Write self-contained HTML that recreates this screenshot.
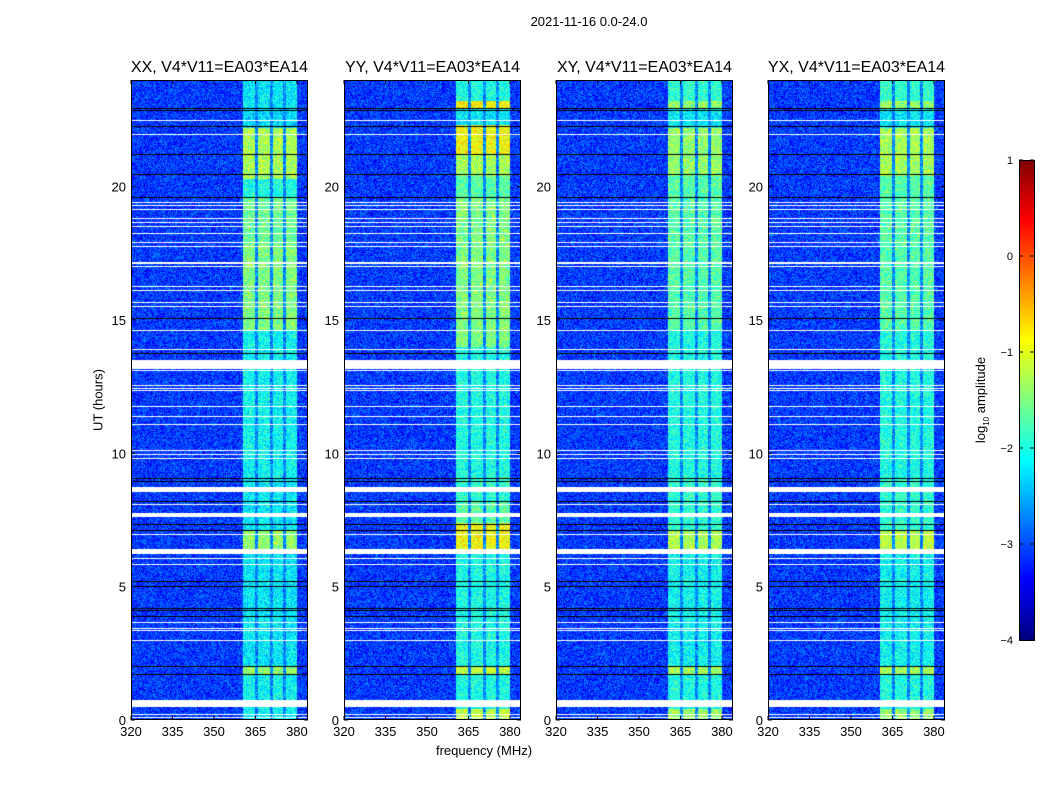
<!DOCTYPE html>
<html><head><meta charset="utf-8">
<style>
body{margin:0;background:#fff;}
#root{position:relative;width:1050px;height:800px;overflow:hidden;font-family:"Liberation Sans","DejaVu Sans",sans-serif;color:#000;}
.t{position:absolute;white-space:nowrap;}
canvas{position:absolute;}
</style></head><body>
<div id="root">
<div class="t" style="left:589px;top:14px;font-size:13px;transform:translateX(-50%)">2021-11-16 0.0-24.0</div>
<div class="t" style="left:484px;top:743px;font-size:13px;transform:translateX(-50%)">frequency (MHz)</div>
<div class="t" style="left:98px;top:400px;font-size:13px;transform:translate(-50%,-50%) rotate(-90deg)">UT (hours)</div>
<div class="t" style="left:982px;top:400px;font-size:13px;transform:translate(-50%,-50%) rotate(-90deg)">log<sub style="font-size:8px">10</sub> amplitude</div>
<canvas id="cb" width="15" height="480" style="left:1019px;top:160px;"></canvas>
<svg id="ov" width="1050" height="800" style="position:absolute;left:0;top:0"></svg>
</div>
<script>
const panelNames=["XX, V4*V11=EA03*EA14","YY, V4*V11=EA03*EA14","XY, V4*V11=EA03*EA14","YX, V4*V11=EA03*EA14"];
const xTicks=[320,335,350,365,380];
const yTicks=[0,5,10,15,20];
const cbTicks=[1,0,-1,-2,-3,-4];
const whiteBlocks=[[13.16,13.5],[8.55,8.74],[7.61,7.76],[6.22,6.41],[0.49,0.75]];
const whiteLines=[22.5,21.97,19.42,19.31,19.16,18.79,18.67,18.52,18.26,17.92,17.77,17.17,17.1,16.99,16.24,16.09,15.64,15.52,14.59,13.91,13.09,12.56,12.45,12.34,11.77,11.4,11.1,10.12,9.97,9.82,8.1,6.97,6.07,5.85,3.64,3.45,3.34,3.0,0.22,0.11];
const blackLines=[22.95,22.87,22.24,21.19,20.44,19.61,18.82,15.07,13.76,9.04,8.96,8.21,7.35,7.09,5.21,5.02,4.2,4.09,3.9,2.02,1.72];
// band segments: [top hour, bottom hour, log10 level]
const xxSegs=[[24,22.95,-2.2],[22.95,22.2,-2.3],[22.2,20.3,-1.3],[20.3,19.6,-2.0],[19.6,17.9,-1.6],[17.9,14.6,-1.5],[14.6,9.1,-2.1],[9.1,7.1,-2.2],[7.1,6.3,-1.4],[6.3,2.0,-2.2],[2.0,1.7,-1.4],[1.7,0,-2.1]];
const yySegs=[[24,23.2,-2.0],[23.2,22.9,-0.85],[22.9,22.3,-2.2],[22.3,21.2,-0.9],[21.2,20.4,-1.3],[20.4,19.6,-1.7],[19.6,14.0,-1.5],[14.0,9.1,-2.0],[9.1,8.2,-1.9],[8.2,7.4,-1.7],[7.4,6.4,-0.9],[6.4,2.0,-2.0],[2.0,1.7,-1.2],[1.7,0.4,-2.0],[0.4,0,-1.2]];
const xySegs=[[24,23.2,-1.9],[23.2,22.95,-1.4],[22.95,22.2,-2.2],[22.2,20.4,-1.4],[20.4,14.6,-1.7],[14.6,9.1,-2.0],[9.1,7.1,-1.9],[7.1,6.4,-1.3],[6.4,2.0,-2.1],[2.0,1.7,-1.3],[1.7,0.4,-2.0],[0.4,0,-1.4]];
const yxSegs=[[24,23.2,-1.9],[23.2,22.95,-1.4],[22.95,22.2,-2.2],[22.2,20.4,-1.3],[20.4,14.6,-1.7],[14.6,9.1,-2.0],[9.1,7.1,-1.9],[7.1,6.4,-1.2],[6.4,2.0,-2.1],[2.0,1.7,-1.3],[1.7,0.4,-2.0],[0.4,0,-1.4]];
const bandEdges=[360.5,380.2];
const bandGaps=[365.3,370.8,375.5];
const bgLevel=-3.1;

const panelSegs=[xxSegs,yySegs,xySegs,yxSegs];
const panelLeft=[131,344,556,768], PT=80, PW=177, PH=640;
const F0=320,F1=384,VMIN=-4,VMAX=1;
const fx=f=>(f-F0)/(F1-F0)*PW, hy=h=>(24-h)/24*PH;
function jet(t){t=Math.max(0,Math.min(1,t));const c=v=>Math.round(255*Math.max(0,Math.min(1,v)));
 return [c(1.5-Math.abs(4*t-3)),c(1.5-Math.abs(4*t-2)),c(1.5-Math.abs(4*t-1))];}
function hash(a,b){let h=(a*374761393+b*668265263)^0x5bd1e995;h=(h^(h>>>13))*1274126177;h=h^(h>>>16);return ((h>>>0)%1000)/1000;}
const root=document.getElementById('root');
const ov=document.getElementById('ov');
const NS='http://www.w3.org/2000/svg';
function sv(tag,attrs){const e=document.createElementNS(NS,tag);for(const k in attrs)e.setAttribute(k,attrs[k]);ov.appendChild(e);return e;}
panelSegs.forEach((segs,p)=>{
 const cv=document.createElement('canvas');cv.width=PW;cv.height=PH;
 cv.style.left=panelLeft[p]+'px';cv.style.top=PT+'px';
 
 
 root.insertBefore(cv,ov);
 const ctx=cv.getContext('2d');const img=ctx.createImageData(PW,PH);
 for(let y=0;y<PH;y++){
  const h=24-(y+0.5)/PH*24;
  let seg=segs.find(s=>h<=s[0]&&h>=s[1]);const bl=seg?seg[2]:-2;
  let white=whiteBlocks.some(b=>h>=b[0]&&h<=b[1])||whiteLines.some(w=>Math.floor(hy(w))===y);
  let black=!white&&blackLines.some(w=>Math.floor(hy(w))===y);
  for(let x=0;x<PW;x++){
   const i=(y*PW+x)*4;let col;
   if(white)col=[255,255,255];else if(black)col=[0,0,0];
   else{const f=F0+(x+0.5)/PW*(F1-F0);let v=bgLevel;
    if(f>=bandEdges[0]&&f<=bandEdges[1]){v=bl;if(bandGaps.some(g=>Math.abs(f-g)<0.6))v=Math.min(bl,-2.4)-0.3;}
    v+=(hash(x+p*997,y)-0.5)*0.9;
    col=jet((v-VMIN)/(VMAX-VMIN));}
   img.data[i]=col[0];img.data[i+1]=col[1];img.data[i+2]=col[2];img.data[i+3]=255;}
 }
 ctx.putImageData(img,0,0);
 const L=panelLeft[p];
 const fr=sv('rect',{x:L+0.5,y:PT+0.5,width:PW-1,height:PH-1,fill:'none',stroke:'#000','stroke-width':1});
 
 
 const tt=document.createElement('div');tt.className='t';tt.textContent=panelNames[p];
 tt.style.cssText=`left:${L+PW/2}px;top:59px;font-size:16px;transform:translateX(-50%)`;
 
 
 root.appendChild(tt);
 xTicks.forEach(v=>{const x=L+fx(v);
  sv('line',{x1:x,y1:PT+PH,x2:x,y2:PT+PH-4,stroke:'#000'});sv('line',{x1:x,y1:PT,x2:x,y2:PT+4,stroke:'#000'});
  const t=sv('text',{x:x,y:PT+PH+16,'text-anchor':'middle','font-size':13,'font-family':'Liberation Sans, sans-serif'});t.textContent=v;
  
  });
 yTicks.forEach(v=>{const y=PT+hy(v);
  sv('line',{x1:L,y1:y,x2:L+4,y2:y,stroke:'#000'});sv('line',{x1:L+PW,y1:y,x2:L+PW-4,y2:y,stroke:'#000'});
  const t=sv('text',{x:L-5,y:y+5,'text-anchor':'end','font-size':13,'font-family':'Liberation Sans, sans-serif'});t.textContent=v;
  
  });
});
// colorbar
const cb=document.getElementById('cb').getContext('2d');
for(let y=0;y<480;y++){const c=jet(1-(y+0.5)/480);cb.fillStyle=`rgb(${c})`;cb.fillRect(0,y,15,1);}
const cbf=sv('rect',{x:1019.5,y:160.5,width:15,height:480,fill:'none',stroke:'#000'});


cbTicks.forEach(v=>{const y=160+(VMAX-v)/(VMAX-VMIN)*480;
 sv('line',{x1:1019,y1:y,x2:1023,y2:y,stroke:'#000'});sv('line',{x1:1034,y1:y,x2:1030,y2:y,stroke:'#000'});
 const t=sv('text',{x:1013,y:y+4,'text-anchor':'end','font-size':11,'font-family':'Liberation Sans, sans-serif'});t.textContent=v<0?'\u2212'+(-v):v;
 
 });
</script>
</body></html>
